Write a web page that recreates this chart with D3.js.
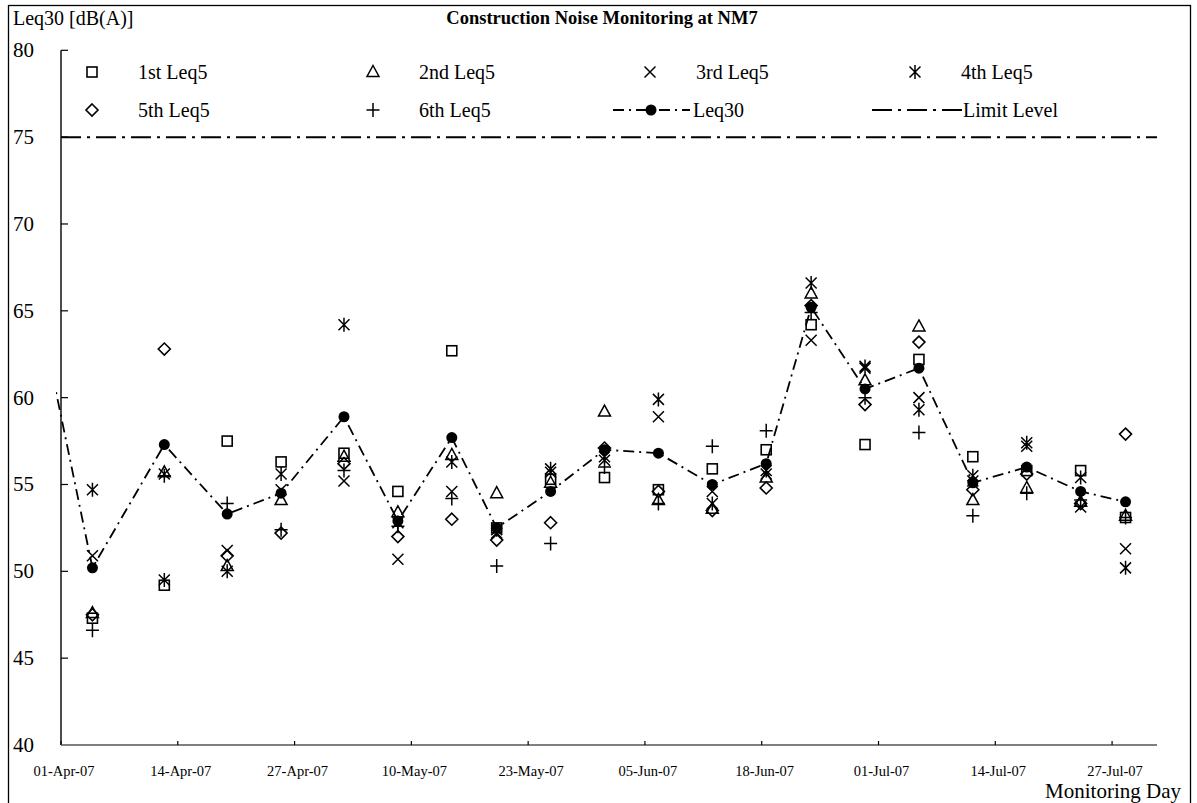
<!DOCTYPE html>
<html>
<head>
<meta charset="utf-8">
<script src="https://cdn.jsdelivr.net/npm/d3@7"></script>
<style>
  html, body { margin: 0; padding: 0; background: #fff; }
  svg { display: block; font-family: "Liberation Serif", "Times New Roman", serif; }
</style>
</head>
<body>
<svg id="chart" width="1197" height="803"></svg>
<script>
// Monitoring days (one Leq30 period per day)
const dates = ["2007-04-04","2007-04-12","2007-04-19","2007-04-25","2007-05-02","2007-05-08",
  "2007-05-14","2007-05-19","2007-05-25","2007-05-31","2007-06-06","2007-06-12","2007-06-18",
  "2007-06-23","2007-06-29","2007-07-05","2007-07-11","2007-07-17","2007-07-23","2007-07-28"];

// Six consecutive 5-minute readings per day, dB(A)
const leq5_1 = [47.3,49.2,57.5,56.3,56.8,54.6,62.7,52.5,55.3,55.4,54.7,55.9,57.0,64.2,57.3,62.2,56.6,55.8,55.8,53.1];
const leq5_2 = [47.6,55.7,50.3,54.1,56.6,53.4,56.7,54.5,55.1,59.2,54.1,53.6,55.4,66.0,61.0,64.1,54.1,54.8,54.0,53.2];
const leq5_3 = [50.9,55.6,51.2,54.7,55.2,50.7,54.6,52.2,55.7,56.4,58.9,54.6,55.6,63.3,61.7,60.0,55.2,57.2,53.7,51.3];
const leq5_4 = [54.7,49.5,50.0,55.6,64.2,52.8,56.3,52.4,55.9,56.6,59.9,53.9,55.8,66.6,61.8,59.3,55.5,57.4,55.4,50.2];
const leq5_5 = [47.5,62.8,50.9,52.2,56.2,52.0,53.0,51.8,52.8,57.1,54.6,53.5,54.8,65.3,59.6,63.2,54.7,55.6,53.9,57.9];
const leq5_6 = [46.6,55.5,53.9,52.4,55.8,52.6,54.2,50.3,51.6,56.0,53.9,57.2,58.1,64.9,60.0,58.0,53.2,54.5,54.1,53.1];

// Leq30 trend, including the preceding period that runs in from the left edge
const leq30Dates = ["2007-03-28"].concat(dates);
const leq30 = [67.7,50.2,57.3,53.3,54.5,58.9,52.9,57.7,52.5,54.6,57.0,56.8,55.0,56.2,65.2,60.5,61.7,55.1,56.0,54.6,54.0];

const limitLevel = 75;
const limitDates = ["2007-04-01","2007-08-01"];

const xTickDates = ["2007-04-01","2007-04-14","2007-04-27","2007-05-10","2007-05-23",
  "2007-06-05","2007-06-18","2007-07-01","2007-07-14","2007-07-27"];
const xDomain = ["2007-04-01","2007-08-01"];
const yTicks = [40,45,50,55,60,65,70,75,80];

const seriesNames = ["1st Leq5","2nd Leq5","3rd Leq5","4th Leq5","5th Leq5","6th Leq5"];

const parse = d3.utcParse("%Y-%m-%d");
const fmt = d3.utcFormat("%d-%b-%y");

const svg = d3.select("#chart");
const plotLeft = 61, plotRight = 1157, plotTop = 50.3, plotBottom = 745;

const x = d3.scaleUtc().domain(xDomain.map(parse)).range([plotLeft, plotRight]);
const y = d3.scaleLinear().domain([40, 80]).range([plotBottom, plotTop]);
const halfDay = (x(parse("2007-04-02")) - x(parse("2007-04-01"))) / 2;
const px = d => x(parse(d)) + halfDay;

// outer frame
svg.append("rect").attr("x", 8.5).attr("y", 5.5).attr("width", 1182).attr("height", 810)
  .attr("fill", "none").attr("stroke", "#000").attr("stroke-width", 1.3);

// marker shapes
function marker(g, type) {
  const s = "#000";
  if (type === 0) {
    g.append("rect").attr("x", -5).attr("y", -5).attr("width", 10).attr("height", 10)
      .attr("fill", "none").attr("stroke", s).attr("stroke-width", 1.6);
  } else if (type === 1) {
    g.append("path").attr("d", "M0,-6.5L6,4.5L-6,4.5Z").attr("fill", "none").attr("stroke", s).attr("stroke-width", 1.5);
  } else if (type === 2) {
    g.append("path").attr("d", "M-5.5,-5.5L5.5,5.5M-5.5,5.5L5.5,-5.5").attr("stroke", s).attr("stroke-width", 1.5);
  } else if (type === 3) {
    g.append("path").attr("d", "M-5.5,-5.5L5.5,5.5M-5.5,5.5L5.5,-5.5M0,-7L0,7").attr("stroke", s).attr("stroke-width", 1.5);
  } else if (type === 4) {
    g.append("path").attr("d", "M0,-6L6,0L0,6L-6,0Z").attr("fill", "none").attr("stroke", s).attr("stroke-width", 1.6);
  } else if (type === 5) {
    g.append("path").attr("d", "M-6.5,0L6.5,0M0,-7L0,7").attr("stroke", s).attr("stroke-width", 1.5);
  } else if (type === 6) {
    g.append("circle").attr("r", 5.5).attr("fill", "#000");
  }
}

// axis title and chart title
svg.append("text").attr("x", 13).attr("y", 25).attr("font-size", 20).text("Leq30 [dB(A)]");
svg.append("text").attr("x", 602).attr("y", 24).attr("text-anchor", "middle")
  .attr("font-size", 18.5).attr("font-weight", "bold").text("Construction Noise Monitoring at NM7");

// y axis
const yAxis = svg.append("g");
yAxis.append("line").attr("x1", plotLeft).attr("x2", plotLeft).attr("y1", plotTop).attr("y2", plotBottom)
  .attr("stroke", "#000").attr("stroke-width", 1.4);
yTicks.forEach(t => {
  yAxis.append("line").attr("x1", plotLeft).attr("x2", plotLeft + 7).attr("y1", y(t)).attr("y2", y(t))
    .attr("stroke", "#000").attr("stroke-width", 1.2);
  yAxis.append("text").attr("x", 13).attr("y", y(t) + 7).attr("font-size", 21).text(t);
});

// x axis
const xAxis = svg.append("g");
xAxis.append("line").attr("x1", plotLeft).attr("x2", plotRight).attr("y1", plotBottom).attr("y2", plotBottom)
  .attr("stroke", "#7f7f7f").attr("stroke-width", 2);
xTickDates.forEach(d => {
  const tx = x(parse(d));
  xAxis.append("line").attr("x1", tx).attr("x2", tx).attr("y1", plotBottom).attr("y2", plotBottom - 4)
    .attr("stroke", "#000").attr("stroke-width", 1.2);
  xAxis.append("text").attr("x", tx + 3).attr("y", 776).attr("text-anchor", "middle")
    .attr("font-size", 14.5).text(fmt(parse(d)));
});
svg.append("text").attr("x", 1181).attr("y", 798).attr("text-anchor", "end")
  .attr("font-size", 21).text("Monitoring Day");

// clipping region for the plotted series
svg.append("clipPath").attr("id", "plotClip").append("rect")
  .attr("x", plotLeft - 5).attr("y", plotTop - 10).attr("width", plotRight - plotLeft + 10).attr("height", plotBottom - plotTop + 10);
const plot = svg.append("g").attr("clip-path", "url(#plotClip)");

// limit level line
plot.append("path")
  .attr("d", d3.line().x(d => x(parse(d))).y(() => y(limitLevel))(limitDates))
  .attr("fill", "none").attr("stroke", "#000").attr("stroke-width", 2)
  .attr("stroke-dasharray", "20,6,3,6");

// Leq30 line
plot.append("path")
  .attr("d", d3.line().x((d, i) => px(leq30Dates[i])).y(d => y(d))(leq30))
  .attr("fill", "none").attr("stroke", "#000").attr("stroke-width", 1.8)
  .attr("stroke-dasharray", "11,5,2,5");

// Leq5 readings
[leq5_1, leq5_2, leq5_3, leq5_4, leq5_5, leq5_6].forEach((vals, k) => {
  vals.forEach((v, i) => {
    const g = plot.append("g").attr("transform", `translate(${px(dates[i])},${y(v)})`);
    marker(g, k);
  });
});

// Leq30 markers
leq30.forEach((v, i) => {
  const g = plot.append("g").attr("transform", `translate(${px(leq30Dates[i])},${y(v)})`);
  marker(g, 6);
});

// legend
const legend = svg.append("g");
const colX = [92, 373, 650, 915];
const rowY = [72, 110];
const textDX = 46;
seriesNames.forEach((name, k) => {
  const cx = k < 4 ? colX[k] : colX[k - 4];
  const cy = k < 4 ? rowY[0] : rowY[1];
  marker(legend.append("g").attr("transform", `translate(${cx},${cy})`), k);
  legend.append("text").attr("x", cx + textDX).attr("y", cy + 7).attr("font-size", 20).text(name);
});
// Leq30 legend entry
legend.append("line").attr("x1", 613).attr("x2", 690).attr("y1", rowY[1]).attr("y2", rowY[1])
  .attr("stroke", "#000").attr("stroke-width", 1.8).attr("stroke-dasharray", "11,5,2,5");
marker(legend.append("g").attr("transform", `translate(651,${rowY[1]})`), 6);
legend.append("text").attr("x", 693).attr("y", rowY[1] + 7).attr("font-size", 20).text("Leq30");
// Limit level legend entry
legend.append("line").attr("x1", 872).attr("x2", 962).attr("y1", rowY[1]).attr("y2", rowY[1])
  .attr("stroke", "#000").attr("stroke-width", 2).attr("stroke-dasharray", "20,6,3,6");
legend.append("text").attr("x", 963).attr("y", rowY[1] + 7).attr("font-size", 20).text("Limit Level");
</script>
</body>
</html>
